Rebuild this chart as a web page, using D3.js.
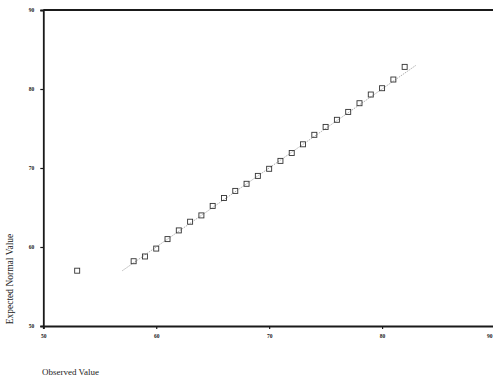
<!DOCTYPE html>
<html>
<head>
<meta charset="utf-8">
<script src="https://cdn.jsdelivr.net/npm/d3@7"></script>
<style>
  html, body { margin: 0; padding: 0; background: #fff; }
  svg { display: block; }
</style>
</head>
<body>
<svg id="chart" width="493" height="381"></svg>
<script>
// Data
const observed = [53, 58, 59, 60, 61, 62, 63, 64, 65, 66, 67, 68, 69, 70, 71, 72, 73, 74, 75, 76, 77, 78, 79, 80, 81, 82];
const expected = [57.0, 58.2, 58.8, 59.8, 61.0, 62.1, 63.2, 64.0, 65.2, 66.2, 67.1, 68.0, 69.0, 69.9, 70.9, 71.9, 73.0, 74.2, 75.2, 76.1, 77.1, 78.2, 79.3, 80.1, 81.2, 82.8];
const refLine = [57, 83];
const xTicks = [50, 60, 70, 80, 90];
const yTicks = [50, 60, 70, 80, 90];
const xTitle = "Observed Value";
const yTitle = "Expected Normal Value";

const svg = d3.select("#chart");
const x = d3.scaleLinear().domain([50, 90]).range([43.3, 495]);
const y = d3.scaleLinear().domain([50, 90]).range([326, 10]);

// frame top line
svg.append("line")
  .attr("x1", x(50)).attr("x2", x(90))
  .attr("y1", y(90)).attr("y2", y(90))
  .attr("stroke", "#1a1a1a").attr("stroke-width", 1.8);

// reference line y = x
svg.append("line")
  .attr("x1", x(refLine[0])).attr("y1", y(refLine[0]))
  .attr("x2", x(refLine[1])).attr("y2", y(refLine[1]))
  .attr("stroke", "#9a9a9a").attr("stroke-width", 0.8)
  .attr("stroke-dasharray", "1.5,1");

// axes
const xAxis = d3.axisBottom(x).tickValues(xTicks).tickSize(3).tickPadding(5).tickFormat(d3.format("d"));
const yAxis = d3.axisLeft(y).tickValues(yTicks).tickSize(3).tickPadding(6).tickFormat(d3.format("d"));

const gx = svg.append("g").attr("transform", `translate(0,${y(50)})`).call(xAxis);
const gy = svg.append("g").attr("transform", `translate(${x(50)},0)`).call(yAxis);

[gx, gy].forEach(g => {
  g.select(".domain").attr("stroke", "#1a1a1a").attr("stroke-width", 1.8);
  g.selectAll(".tick line").attr("stroke", "#1a1a1a").attr("stroke-width", 1.2);
  g.selectAll(".tick text")
    .attr("font-family", "'Liberation Serif', serif")
    .attr("font-size", 5.5).attr("font-weight", "bold").attr("fill", "#222");
});
// keep the last x tick label (at the page edge) inside the picture
gx.selectAll(".tick text").filter(d => d === 90)
  .attr("text-anchor", "end").attr("x", 492 - x(90));

// points
svg.append("g").selectAll("rect")
  .data(observed.map((o, i) => ({o, e: expected[i]})))
  .join("rect")
  .attr("x", d => x(d.o) - 2.5)
  .attr("y", d => y(d.e) - 2.5)
  .attr("width", 5).attr("height", 5)
  .attr("fill", "none")
  .attr("stroke", "#333").attr("stroke-width", 0.9);

// titles
svg.append("text")
  .attr("x", 42).attr("y", 375)
  .attr("font-family", "'Liberation Serif', serif")
  .attr("font-size", 9).attr("fill", "#222")
  .text(xTitle);

svg.append("text")
  .attr("transform", "translate(13,279) rotate(-90)")
  .attr("text-anchor", "middle")
  .attr("font-family", "'Liberation Serif', serif")
  .attr("font-size", 9.5).attr("fill", "#222")
  .text(yTitle);
</script>
</body>
</html>
